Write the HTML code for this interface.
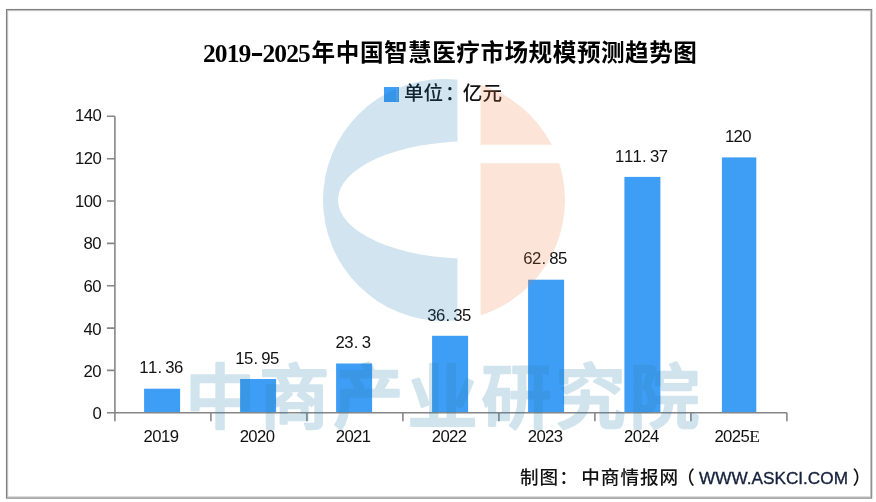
<!DOCTYPE html>
<html lang="zh-CN"><head><meta charset="utf-8"><title>2019-2025年中国智慧医疗市场规模预测趋势图</title>
<style>
html,body{margin:0;padding:0;background:#fff;}
body{width:876px;height:502px;overflow:hidden;}
svg{display:block;}
.d{font-family:"Liberation Sans","Noto Sans CJK SC",sans-serif;font-size:16.7px;fill:#111;}
.t{font-family:"Liberation Serif","Noto Sans CJK SC",sans-serif;font-weight:bold;font-size:23.6px;fill:#000;}
.e{font-family:"Liberation Serif",serif;font-size:17.6px;}
.tn{font-size:25.5px;}
.th{font-weight:normal;font-size:39px;}
.l{font-family:"Liberation Sans","Noto Sans CJK SC",sans-serif;font-weight:500;font-size:19.6px;fill:#111;}
.f{font-family:"Liberation Sans","Noto Sans CJK SC",sans-serif;font-weight:500;font-size:18.6px;fill:#111;}
.u{font-family:"Liberation Sans","Noto Sans CJK SC",sans-serif;font-size:17.2px;fill:#15213c;stroke:#15213c;stroke-width:0.35px;}
.w{font-family:"Liberation Sans","Noto Sans CJK SC",sans-serif;font-weight:500;font-size:70px;fill:#2c84b4;stroke:#2c84b4;stroke-width:2.6px;stroke-linejoin:round;opacity:0.21;}
</style></head><body>
<svg width="876" height="502" viewBox="0 0 876 502">
<rect x="0" y="0" width="876" height="502" fill="#fff"/>
<rect x="7.6" y="10.6" width="863" height="486.4" fill="none" stroke="#c2c2c2" stroke-width="1.1"/>
<rect x="6.5" y="9.5" width="865.2" height="488.6" fill="none" stroke="#7f7f7f" stroke-width="1.1"/>
<text class="t" x="202.9 214.8 226.7 238.6 250.6 262.4 274.3 286.2 298.1 311.6 335.8 359.9 384.0 408.1 432.2 456.3 480.4 504.5 528.6 552.8 576.9 601.0 625.1 649.2 673.3" y="61.5"><tspan class="tn">2019</tspan><tspan class="th" dy="2.2">-</tspan><tspan class="tn" dy="-2.2">2025</tspan><tspan dy="-0.3">年中国智慧医疗市场规模预测趋势图</tspan></text>
<rect x="384" y="87" width="15" height="15" fill="#3e9df4"/>
<path d="M397 88.6 V100.6" stroke="#8ec6fa" stroke-width="1" stroke-dasharray="1.3 0.9" fill="none"/>
<text class="l" x="404.0 423.6 444.9 462.8 482.4" y="99.7">单位：亿元</text>
<g stroke="#868686" stroke-width="1.6" fill="none">
<path d="M114.9 116.3 V412.8 H786.9"/>
<path d="M106.9 412.8 H114.9 M106.9 370.4 H114.9 M106.9 328.1 H114.9 M106.9 285.7 H114.9 M106.9 243.4 H114.9 M106.9 201.0 H114.9 M106.9 158.7 H114.9 M106.9 116.3 H114.9 M114.9 412.8 V421.3 M210.9 412.8 V421.3 M306.9 412.8 V421.3 M402.9 412.8 V421.3 M498.9 412.8 V421.3 M594.9 412.8 V421.3 M690.9 412.8 V421.3 M786.9 412.8 V421.3"/>
</g>
<text class="d" x="92.4" y="419.1">0</text>
<text class="d" x="83.6 92.3" y="376.7">20</text>
<text class="d" x="83.6 92.3" y="334.5">40</text>
<text class="d" x="83.6 92.3" y="292.2">60</text>
<text class="d" x="83.6 92.3" y="249.1">80</text>
<text class="d" x="75.0 83.7 92.4" y="206.6">100</text>
<text class="d" x="75.0 83.7 92.4" y="164.4">120</text>
<text class="d" x="75.0 83.7 92.4" y="121.3">140</text>
<rect x="144.1" y="388.7" width="36.0" height="23.3" fill="#3e9df4"/>
<text class="d" x="139.2 147.9 157.4 165.3 174.0" y="373.4">11.36</text>
<text class="d" x="143.6 152.3 161.0 169.7" y="441.9">2019</text>
<rect x="240.1" y="379.0" width="36.0" height="33.0" fill="#3e9df4"/>
<text class="d" x="235.2 243.9 253.5 261.3 270.0" y="363.7">15.95</text>
<text class="d" x="239.7 248.3 257.1 265.8" y="441.9">2020</text>
<rect x="336.1" y="363.5" width="36.0" height="48.5" fill="#3e9df4"/>
<text class="d" x="335.6 344.3 353.8 361.7" y="348.2">23.3</text>
<text class="d" x="335.7 344.4 353.1 361.8" y="441.9">2021</text>
<rect x="432.1" y="335.8" width="36.0" height="76.2" fill="#3e9df4"/>
<text class="d" x="427.2 435.9 445.5 453.3 462.0" y="320.5">36.35</text>
<text class="d" x="431.7 440.4 449.1 457.8" y="441.9">2022</text>
<rect x="528.1" y="279.7" width="36.0" height="132.3" fill="#3e9df4"/>
<text class="d" x="523.2 531.9 541.5 549.3 558.0" y="264.4">62.85</text>
<text class="d" x="527.7 536.4 545.1 553.8" y="441.9">2023</text>
<rect x="624.4" y="176.9" width="36.0" height="235.1" fill="#3e9df4"/>
<text class="d" x="615.1 623.9 632.6 642.1 650.0 658.7" y="161.6">111.37</text>
<text class="d" x="624.0 632.7 641.4 650.1" y="441.9">2024</text>
<rect x="721.9" y="157.4" width="34.4" height="254.6" fill="#3e9df4"/>
<text class="d" x="724.9 733.6 742.3" y="142.1">120</text>
<text class="d" x="714.4 723.1 731.8 740.5 749.2" y="441.9">2025<tspan class="e">E</tspan></text>
<text class="f" x="520.0 539.6 559.2 581.2 600.8 620.4 640.0 659.6 676.2" y="483.5">制图：中商情报网（</text>
<text class="u" x="699" y="483.6">WWW.ASKCI.COM</text>
<text class="f" x="852.6" y="483.5">）</text>
<g>
<clipPath id="cl"><rect x="300" y="60" width="157.5" height="280"/></clipPath>
<clipPath id="cr"><path d="M480.5 60 H600 V144.7 H480.5 Z M480.5 163.2 H600 V340 H480.5 Z"/></clipPath>
<path clip-path="url(#cl)" fill="#1f78b4" fill-opacity="0.2" fill-rule="evenodd" d="M323.0 200.0 a121.0 121.0 0 1 0 242.0 0 a121.0 121.0 0 1 0 -242.0 0 Z M338 200 a132 58.6 0 1 0 264 0 a132 58.6 0 1 0 -264 0 Z"/>
<circle clip-path="url(#cr)" cx="444.0" cy="200.0" r="121.0" fill="#f0783c" fill-opacity="0.2"/>
</g>
<filter id="bl" x="-2%" y="-10%" width="104%" height="120%"><feGaussianBlur stdDeviation="0.5"/></filter>
<text class="w" filter="url(#bl)" x="185.2 259.3 333.3 407.4 481.5 555.5 629.6" y="422.6">中商产业研究院</text>
</svg>
</body></html>
